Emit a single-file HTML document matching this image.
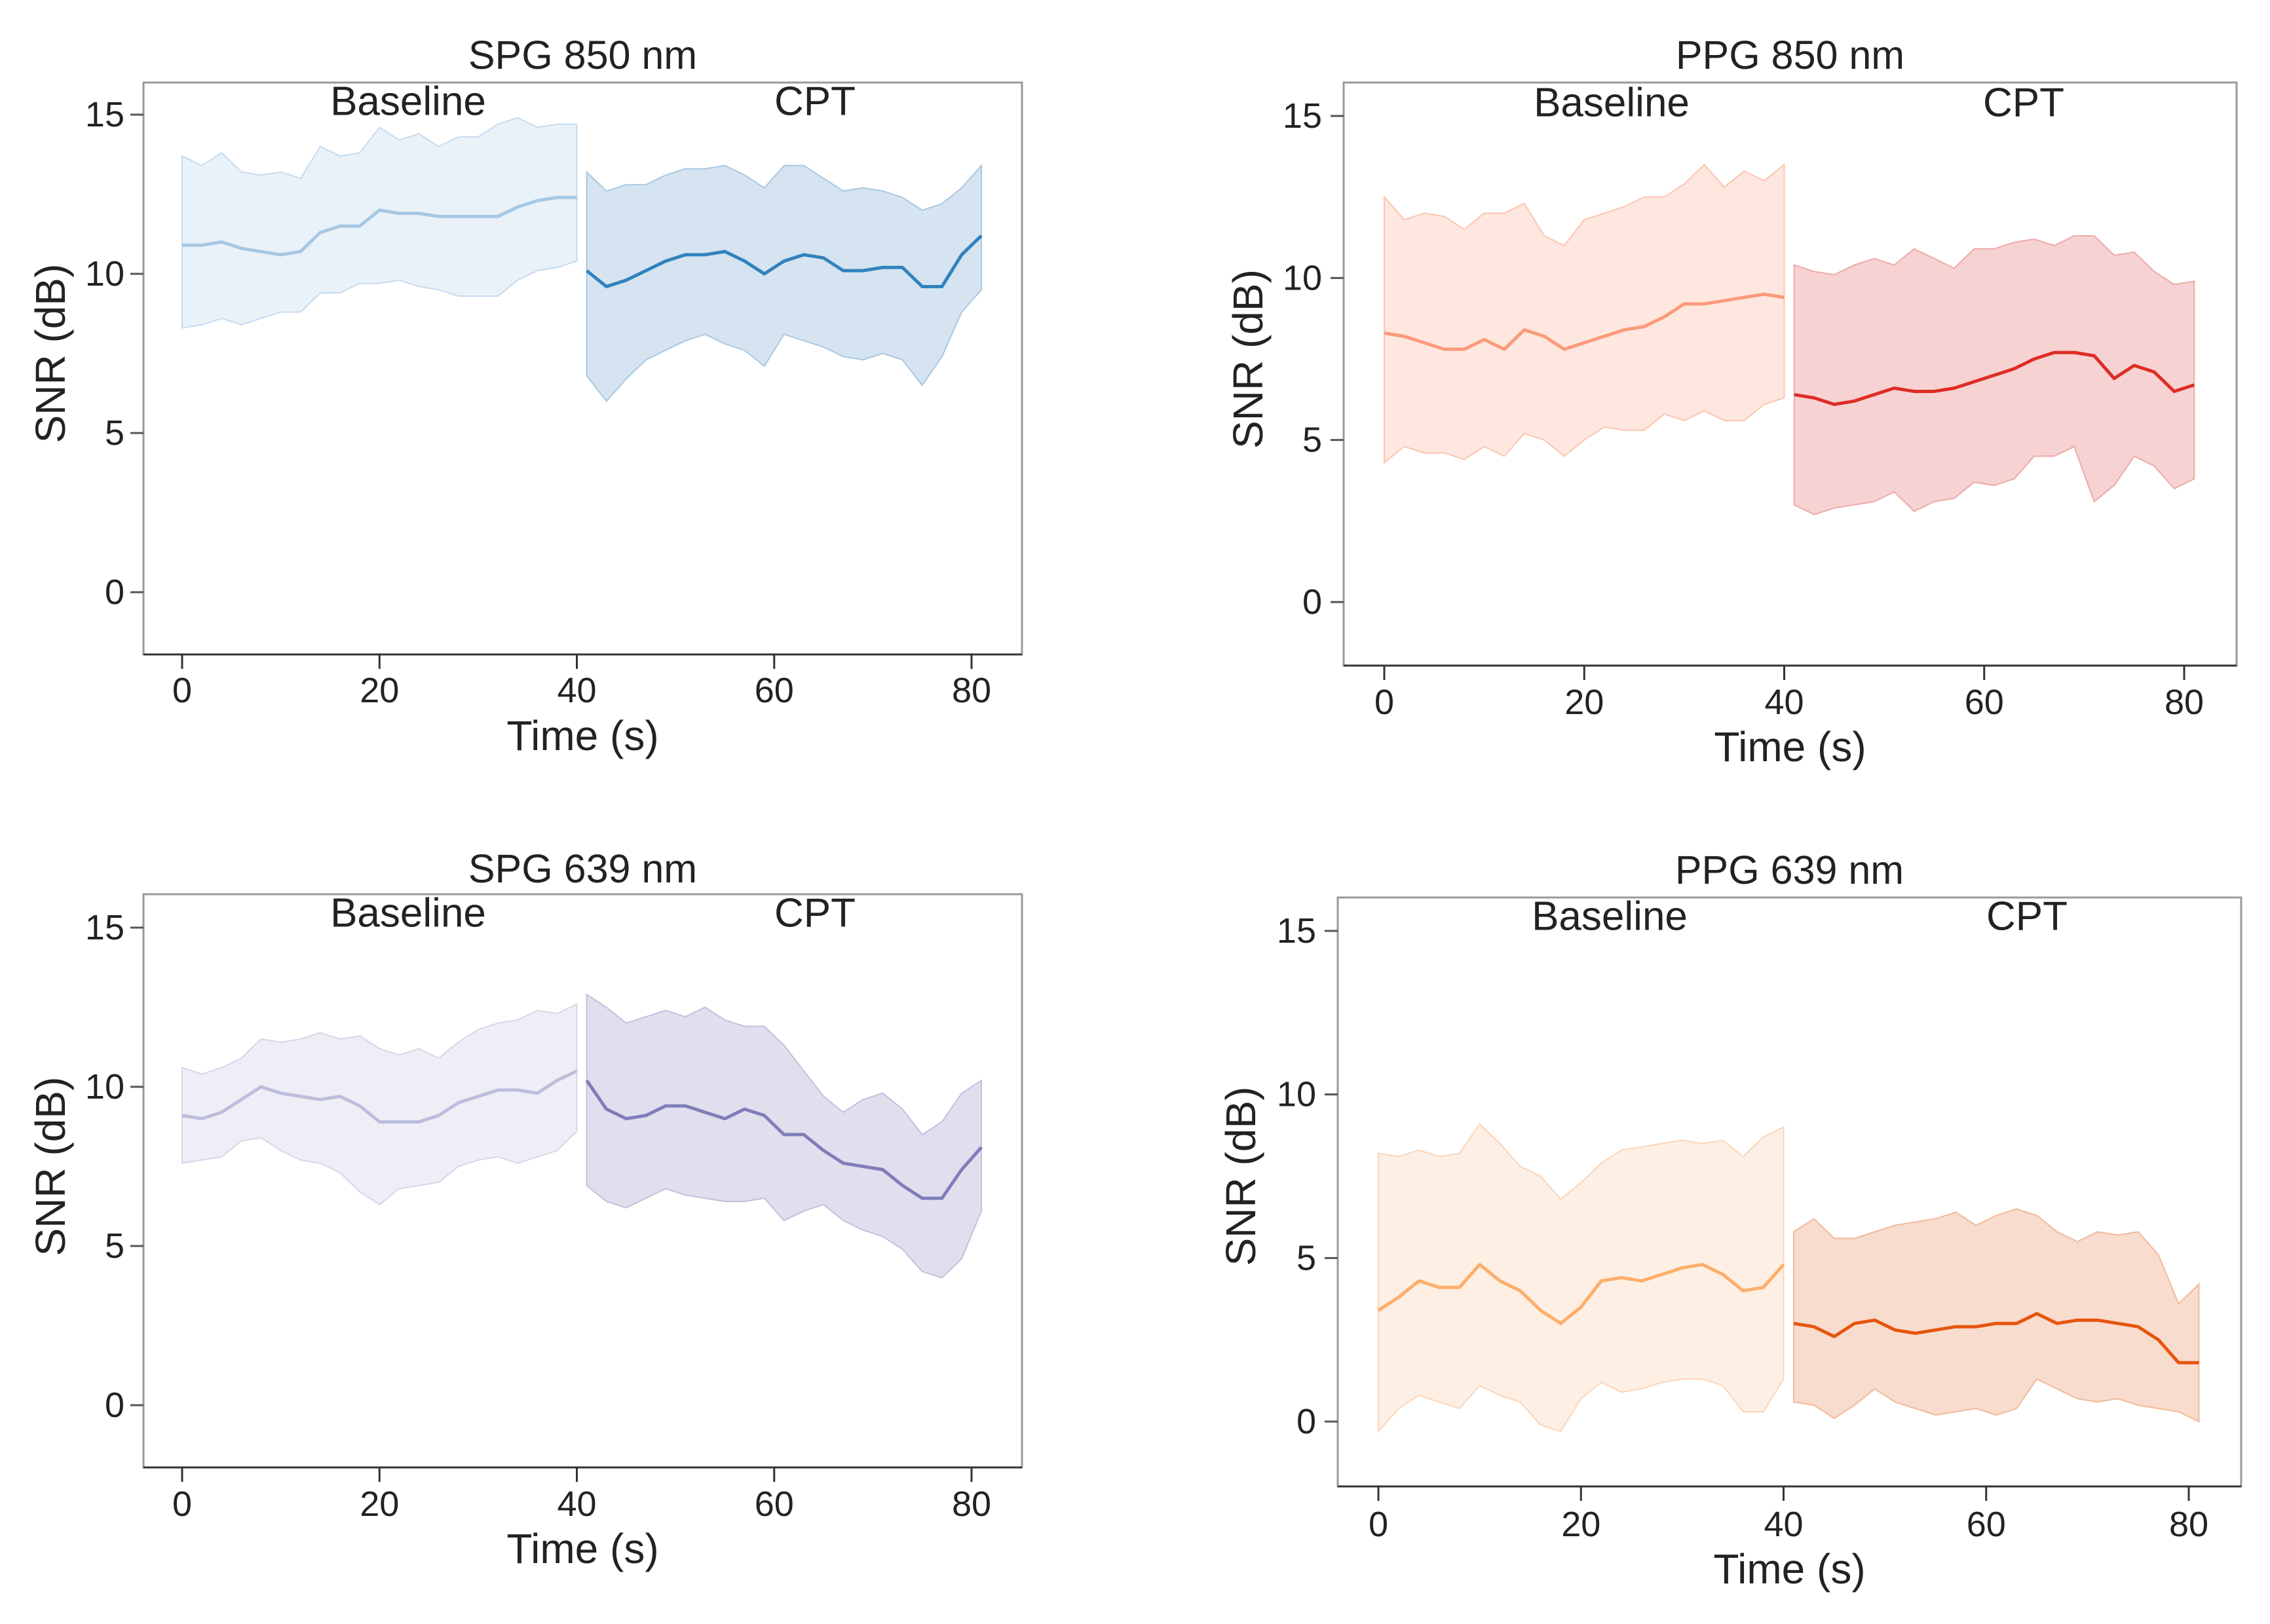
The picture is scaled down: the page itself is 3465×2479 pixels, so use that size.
<!DOCTYPE html>
<html><head><meta charset="utf-8"><style>
html,body{margin:0;padding:0;background:#fff;}
svg{display:block;font-family:"Liberation Sans",sans-serif;}
</style></head><body>
<svg id="fig" width="3465" height="2479" viewBox="0 0 3465 2479"></svg>
<script>
const baseTimes=[0,2,4,6,8,10,12,14,16,18,20,22,24,26,28,30,32,34,36,38,40];
const cptTimes=[41,43,45,47,49,51,53,55,57,59,61,63,65,67,69,71,73,75,77,79,81];
const xTicks=[0,20,40,60,80];
const yTicks=[0,5,10,15];
const titles=["SPG 850 nm","PPG 850 nm","SPG 639 nm","PPG 639 nm"];
// SPG 850
const p1BaseMean=[10.9,10.9,11.0,10.8,10.7,10.6,10.7,11.3,11.5,11.5,12.0,11.9,11.9,11.8,11.8,11.8,11.8,12.1,12.3,12.4,12.4];
const p1BaseUp=[13.7,13.4,13.8,13.2,13.1,13.2,13.0,14.0,13.7,13.8,14.6,14.2,14.4,14.0,14.3,14.3,14.7,14.9,14.6,14.7,14.7];
const p1BaseLo=[8.3,8.4,8.6,8.4,8.6,8.8,8.8,9.4,9.4,9.7,9.7,9.8,9.6,9.5,9.3,9.3,9.3,9.8,10.1,10.2,10.4];
const p1CptMean=[10.1,9.6,9.8,10.1,10.4,10.6,10.6,10.7,10.4,10.0,10.4,10.6,10.5,10.1,10.1,10.2,10.2,9.6,9.6,10.6,11.2];
const p1CptUp=[13.2,12.6,12.8,12.8,13.1,13.3,13.3,13.4,13.1,12.7,13.4,13.4,13.0,12.6,12.7,12.6,12.4,12.0,12.2,12.7,13.4];
const p1CptLo=[6.8,6.0,6.7,7.3,7.6,7.9,8.1,7.8,7.6,7.1,8.1,7.9,7.7,7.4,7.3,7.5,7.3,6.5,7.4,8.8,9.5];
// PPG 850
const p2BaseMean=[8.3,8.2,8.0,7.8,7.8,8.1,7.8,8.4,8.2,7.8,8.0,8.2,8.4,8.5,8.8,9.2,9.2,9.3,9.4,9.5,9.4];
const p2BaseUp=[12.5,11.8,12.0,11.9,11.5,12.0,12.0,12.3,11.3,11.0,11.8,12.0,12.2,12.5,12.5,12.9,13.5,12.8,13.3,13.0,13.5];
const p2BaseLo=[4.3,4.8,4.6,4.6,4.4,4.8,4.5,5.2,5.0,4.5,5.0,5.4,5.3,5.3,5.8,5.6,5.9,5.6,5.6,6.1,6.3];
const p2CptMean=[6.4,6.3,6.1,6.2,6.4,6.6,6.5,6.5,6.6,6.8,7.0,7.2,7.5,7.7,7.7,7.6,6.9,7.3,7.1,6.5,6.7];
const p2CptUp=[10.4,10.2,10.1,10.4,10.6,10.4,10.9,10.6,10.3,10.9,10.9,11.1,11.2,11.0,11.3,11.3,10.7,10.8,10.2,9.8,9.9];
const p2CptLo=[3.0,2.7,2.9,3.0,3.1,3.4,2.8,3.1,3.2,3.7,3.6,3.8,4.5,4.5,4.8,3.1,3.6,4.5,4.2,3.5,3.8];
// SPG 639
const p3BaseMean=[9.1,9.0,9.2,9.6,10.0,9.8,9.7,9.6,9.7,9.4,8.9,8.9,8.9,9.1,9.5,9.7,9.9,9.9,9.8,10.2,10.5];
const p3BaseUp=[10.6,10.4,10.6,10.9,11.5,11.4,11.5,11.7,11.5,11.6,11.2,11.0,11.2,10.9,11.4,11.8,12.0,12.1,12.4,12.3,12.6];
const p3BaseLo=[7.6,7.7,7.8,8.3,8.4,8.0,7.7,7.6,7.3,6.7,6.3,6.8,6.9,7.0,7.5,7.7,7.8,7.6,7.8,8.0,8.6];
const p3CptMean=[10.2,9.3,9.0,9.1,9.4,9.4,9.2,9.0,9.3,9.1,8.5,8.5,8.0,7.6,7.5,7.4,6.9,6.5,6.5,7.4,8.1];
const p3CptUp=[12.9,12.5,12.0,12.2,12.4,12.2,12.5,12.1,11.9,11.9,11.3,10.5,9.7,9.2,9.6,9.8,9.3,8.5,8.9,9.8,10.2];
const p3CptLo=[6.9,6.4,6.2,6.5,6.8,6.6,6.5,6.4,6.4,6.5,5.8,6.1,6.3,5.8,5.5,5.3,4.9,4.2,4.0,4.6,6.1];
// PPG 639
const p4BaseMean=[3.4,3.8,4.3,4.1,4.1,4.8,4.3,4.0,3.4,3.0,3.5,4.3,4.4,4.3,4.5,4.7,4.8,4.5,4.0,4.1,4.8];
const p4BaseUp=[8.2,8.1,8.3,8.1,8.2,9.1,8.5,7.8,7.5,6.8,7.3,7.9,8.3,8.4,8.5,8.6,8.5,8.6,8.1,8.7,9.0];
const p4BaseLo=[-0.3,0.4,0.8,0.6,0.4,1.1,0.8,0.6,-0.1,-0.3,0.7,1.2,0.9,1.0,1.2,1.3,1.3,1.1,0.3,0.3,1.3];
const p4CptMean=[3.0,2.9,2.6,3.0,3.1,2.8,2.7,2.8,2.9,2.9,3.0,3.0,3.3,3.0,3.1,3.1,3.0,2.9,2.5,1.8,1.8];
const p4CptUp=[5.8,6.2,5.6,5.6,5.8,6.0,6.1,6.2,6.4,6.0,6.3,6.5,6.3,5.8,5.5,5.8,5.7,5.8,5.1,3.6,4.2];
const p4CptLo=[0.6,0.5,0.1,0.5,1.0,0.6,0.4,0.2,0.3,0.4,0.2,0.4,1.3,1.0,0.7,0.6,0.7,0.5,0.4,0.3,0.0];

const NS="http://www.w3.org/2000/svg";
const svg=document.getElementById('fig');
function mk(tag,attrs,parent){const e=document.createElementNS(NS,tag);for(const k in attrs)e.setAttribute(k,attrs[k]);(parent||svg).appendChild(e);return e;}
function txt(s,attrs,parent){const e=mk('text',attrs,parent);e.textContent=s;return e;}

const panels=[
 {box:[219,126,1560,999],x0:278,x80:1483,y0:904,y15:175,titleY:84,labY:155,baseX:623,cptX:1244,tickY:1054,timeY:1123,snrX:77,ytx:190,
  data:[p1BaseMean,p1BaseUp,p1BaseLo,p1CptMean,p1CptUp,p1CptLo],
  col:{bf:'#eaf2f9',be:'#c6dbef',bl:'#a6c8e4',cf:'#d5e4f0',ce:'#a8c8e2',cl:'#3182bd'}},
 {box:[2051,126,3414,1016],x0:2113,x80:3334,y0:919,y15:177,titleY:84,labY:157,baseX:2460,cptX:3089,tickY:1072,timeY:1140,snrX:1905,ytx:2018,
  data:[p2BaseMean,p2BaseUp,p2BaseLo,p2CptMean,p2CptUp,p2CptLo],
  col:{bf:'#fde7de',be:'#fcc5b0',bl:'#fb9a7a',cf:'#f6d3d2',ce:'#eea9a7',cl:'#de2d26'}},
 {box:[219,1365,1560,2240],x0:278,x80:1483,y0:2145,y15:1416,titleY:1326,labY:1394,baseX:623,cptX:1244,tickY:2296,timeY:2364,snrX:77,ytx:190,
  data:[p3BaseMean,p3BaseUp,p3BaseLo,p3CptMean,p3CptUp,p3CptLo],
  col:{bf:'#efeef6',be:'#d7d6ea',bl:'#bcbddc',cf:'#e1dfee',ce:'#c3c0dd',cl:'#807dba'}},
 {box:[2042,1370,3421,2269],x0:2104,x80:3341,y0:2170,y15:1421,titleY:1328,labY:1399,baseX:2457,cptX:3094,tickY:2327,timeY:2395,snrX:1894,ytx:2009,
  data:[p4BaseMean,p4BaseUp,p4BaseLo,p4CptMean,p4CptUp,p4CptLo],
  col:{bf:'#fdefe3',be:'#fcd5b8',bl:'#fdae6b',cf:'#f8dccd',ce:'#f2b99a',cl:'#e6550d'}}
];

panels.forEach((p,i)=>{
 const g=mk('g',{});
 
 
 const X=t=>p.x0+(p.x80-p.x0)*t/80;
 const Y=v=>p.y0+(p.y15-p.y0)*v/15;
 const [x1,y1,x2,y2]=p.box;
 const frame=mk('rect',{x:x1,y:y1,width:x2-x1,height:y2-y1,fill:'none',stroke:'#9a9a9a','stroke-width':3},g);
 
 
 const bottom=mk('line',{x1:x1,y1:y2,x2:x2,y2:y2,stroke:'#333','stroke-width':3},g);
 
 
 function band(times,up,lo,mean,fill,edge,line,name){
  let d='M'+times.map((t,k)=>X(t)+','+Y(up[k])).join('L');
  d+='L'+times.slice().reverse().map((t,k)=>X(t)+','+Y(lo[lo.length-1-k])).join('L')+'Z';
  const b=mk('path',{d:d,fill:fill,stroke:edge,'stroke-width':2},g);
  
  
  const l=mk('path',{d:'M'+times.map((t,k)=>X(t)+','+Y(mean[k])).join('L'),fill:'none',stroke:line,'stroke-width':5,'stroke-linejoin':'round'},g);
  
  
 }
 const D=p.data;
 band(baseTimes,D[1],D[2],D[0],p.col.bf,p.col.be,p.col.bl,'baseline');
 band(cptTimes,D[4],D[5],D[3],p.col.cf,p.col.ce,p.col.cl,'cpt');
 xTicks.forEach(t=>{
  const tk=mk('line',{x1:X(t),x2:X(t),y1:y2,y2:y2+22,stroke:'#333','stroke-width':3},g);
  
  
  const lb=txt(String(t),{x:X(t),y:p.tickY,'text-anchor':'middle','dominant-baseline':'central','font-size':54,fill:'#222'},g);
  
  
 });
 yTicks.forEach(v=>{
  const tk=mk('line',{x1:x1-20,x2:x1,y1:Y(v),y2:Y(v),stroke:'#555','stroke-width':3},g);
  
  
  const lb=txt(String(v),{x:p.ytx,y:Y(v),'text-anchor':'end','dominant-baseline':'central','font-size':54,fill:'#222'},g);
  
  
 });
 const ti=txt(titles[i],{x:(x1+x2)/2,y:p.titleY,'text-anchor':'middle','dominant-baseline':'central','font-size':61,fill:'#222'},g);
 
 
 const bl=txt('Baseline',{x:p.baseX,y:p.labY,'text-anchor':'middle','dominant-baseline':'central','font-size':62,fill:'#222'},g);
 
 
 const cl=txt('CPT',{x:p.cptX,y:p.labY,'text-anchor':'middle','dominant-baseline':'central','font-size':62,fill:'#222'},g);
 
 
 const xl=txt('Time (s)',{x:(x1+x2)/2,y:p.timeY,'text-anchor':'middle','dominant-baseline':'central','font-size':64,fill:'#222'},g);
 
 
 const cy=(Y(15)+Y(0))/2;
 const yl=txt('SNR (dB)',{x:p.snrX,y:cy,'text-anchor':'middle','dominant-baseline':'central','font-size':64,fill:'#222',transform:'rotate(-90 '+p.snrX+' '+cy+')'},g);
 
 
});
</script>
</body></html>
